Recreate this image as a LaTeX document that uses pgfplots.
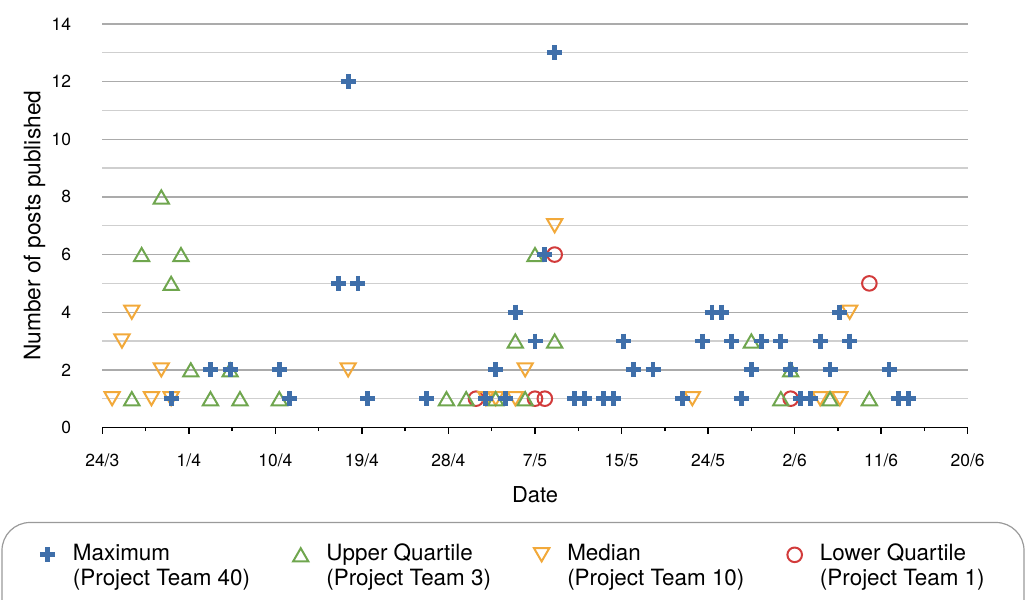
\documentclass[border=0pt]{standalone}
\usepackage{fontspec}
\setmainfont{TeX Gyre Heros}
\usepackage{pgfplots}
\pgfplotsset{compat=1.18}
\definecolor{cmax}{HTML}{3F6FAA}
\definecolor{cupq}{HTML}{6FA64E}
\definecolor{cmed}{HTML}{F2A93A}
\definecolor{clow}{HTML}{D23B3B}
\definecolor{gridmaj}{HTML}{ABABAB}
\definecolor{gridmin}{HTML}{CFCFCF}
\definecolor{legbox}{HTML}{9A9A9A}
\newcommand{\legA}{\begin{tabular}{@{}l@{}}Maximum\\(Project Team 40)\end{tabular}}
\newcommand{\legB}{\begin{tabular}{@{}l@{}}Upper Quartile\\(Project Team 3)\end{tabular}}
\newcommand{\legC}{\begin{tabular}{@{}l@{}}Median\\(Project Team 10)\end{tabular}}
\newcommand{\legD}{\begin{tabular}{@{}l@{}}Lower Quartile\\(Project Team 1)\end{tabular}}
\begin{document}
\begin{tikzpicture}
\begin{axis}[
  at={(0,0)}, anchor=south west,
  scale only axis, width=865.4bp, height=403.5bp,
  xmin=0, xmax=88, ymin=0, ymax=14,
  axis x line*=bottom, axis y line*=left,
  y axis line style={draw=none},
  x axis line style={black, line width=1.4bp, -},
  xtick={0,8.8,17.6,26.4,35.2,44,52.8,61.6,70.4,79.2,88},
  xticklabels={24/3,1/4,10/4,19/4,28/4,7/5,15/5,24/5,2/6,11/6,20/6},
  minor xtick={4.4,13.2,22,30.8,39.6,48.4,57.2,66,74.8,83.6},
  major tick length=6bp, minor tick length=3.5bp,
  tick align=outside,
  x tick style={black, line width=1.4bp},
  ytick={0,2,...,14}, minor ytick={1,3,...,13},
  y tick style={draw=none},
  ymajorgrids, yminorgrids,
  major grid style={draw=gridmaj, line width=1.3bp},
  minor grid style={draw=gridmin, line width=1.3bp},
  /pgf/number format/assume math mode=true,
  xticklabel style={font=\fontsize{17.5}{20}\selectfont, inner sep=0pt, anchor=north, yshift=-20bp},
  yticklabel style={font=\fontsize{17.5}{20}\selectfont, inner sep=0pt, anchor=east, xshift=-25bp},
  xlabel={Date},
  ylabel={Number of posts published},
  xlabel style={font=\fontsize{22}{26}\selectfont, at={([yshift=-67bp]axis description cs:0.5,0)}, anchor=center},
  ylabel style={font=\fontsize{22.8}{26}\selectfont, at={([xshift=-67.8bp]axis description cs:0,0.5)}, anchor=center, rotate=0},
  legend columns=4, reverse legend,
  legend cell align=left,
  legend style={at={(axis description cs:-0.0720,-0.2882)}, anchor=north west, draw=none, fill=none,
    inner sep=0pt, outer sep=0pt,
    nodes={inner sep=0pt, font=\fontsize{22.5}{24.5}\selectfont},
    /tikz/every odd column/.append style={column sep=18bp},
    /tikz/every even column/.append style={column sep=43bp}},
  legend image code/.code={\draw[mark repeat=2,mark phase=2,#1] plot coordinates {(0bp,4.5bp) (10bp,4.5bp) (20bp,4.5bp)};},
]
% Lower Quartile (Project Team 1)
\addplot[only marks, mark=o, mark size=7.3bp, draw=clow, line width=2bp] coordinates {
 (38,1) (44,1) (45,1) (46,6) (70,1) (78,5)
};
\addlegendentry{\legD}
% Median (Project Team 10)
\addplot[only marks, mark=triangle, mark size=8.8bp, draw=cmed, line width=2bp, mark options={yshift=2.2bp, rotate=180}] coordinates {
 (1,1) (2,3) (3,4) (5,1) (6,2) (7,1) (25,2) (39,1) (40,1) (42,1) (43,2) (46,7) (60,1) (73,1) (75,1) (76,4)
};
\addlegendentry{\legC}
% Upper Quartile (Project Team 3)
\addplot[only marks, mark=triangle, mark size=8.8bp, draw=cupq, line width=2bp, mark options={yshift=-2.2bp}] coordinates {
 (3,1) (4,6) (6,8) (7,5) (8,6) (9,2) (11,1) (13,2) (14,1) (18,1) (35,1) (37,1) (40,1) (42,3) (43,1) (44,6) (46,3) (66,3) (69,1) (70,2) (74,1) (78,1)
};
\addlegendentry{\legB}
% Maximum (Project Team 40)
\addplot[only marks, mark=+, mark size=7.5bp, draw=cmax, line width=4.8bp] coordinates {
 (7,1) (11,2) (13,2) (18,2) (19,1) (24,5) (25,12) (26,5) (27,1) (33,1) (39,1) (40,2) (41,1) (42,4) (44,3) (45,6) (46,13) (48,1) (49,1) (51,1) (52,1) (53,3) (54,2) (56,2) (59,1) (61,3) (62,4) (63,4) (64,3) (65,1) (66,2) (67,3) (69,3) (70,2) (71,1) (72,1) (73,3) (74,2) (75,4) (76,3) (80,2) (81,1) (82,1)
};
\addlegendentry{\legA}
\end{axis}
\draw[legbox, line width=1.2bp, rounded corners=28bp] (-100.3bp,-95bp) rectangle (921.7bp,-260bp);
\pgfresetboundingbox
\path (-102.3bp,-172bp) rectangle (923.7bp,427.5bp);
\end{tikzpicture}
\end{document}
